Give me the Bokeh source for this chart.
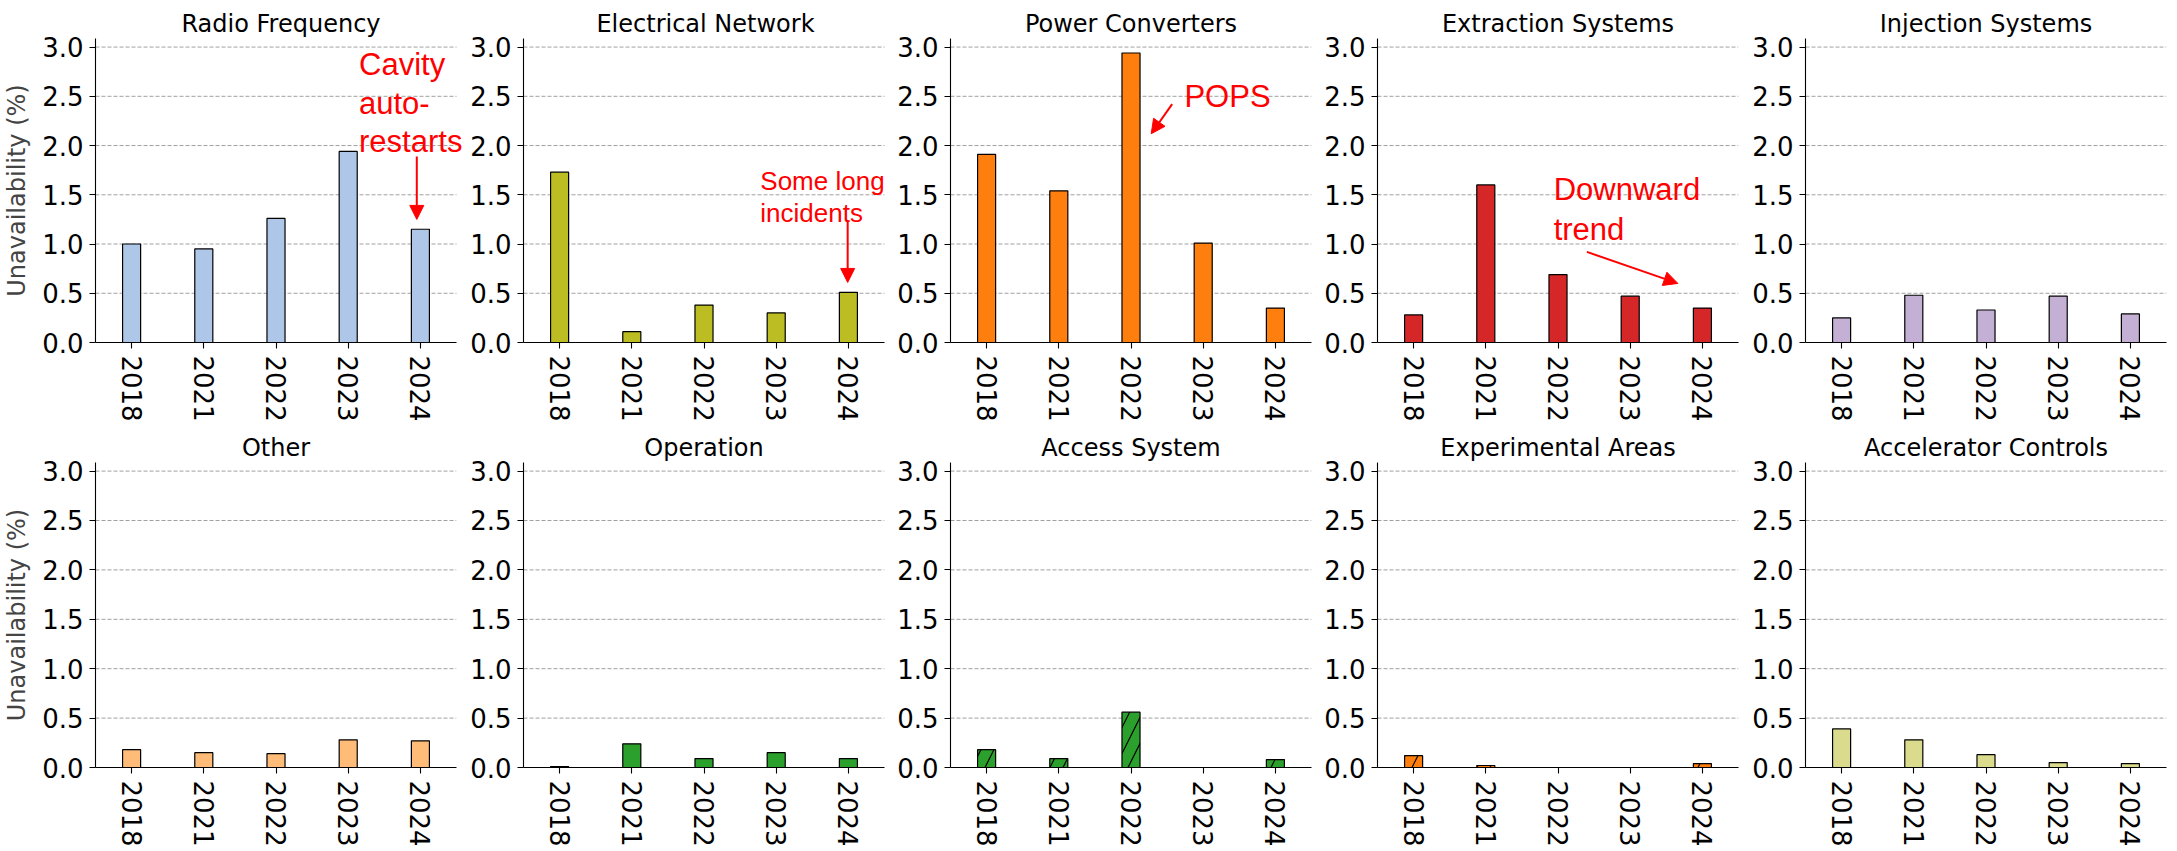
from bokeh.plotting import figure
from bokeh.layouts import row, column
from bokeh.models import (Range1d, FixedTicker, NumeralTickFormatter,
                          Label, Arrow, NormalHead, ColumnDataSource)
from bokeh.embed import file_html
from bokeh.resources import INLINE

# ---------------- data ----------------
years = ["2018", "2021", "2022", "2023", "2024"]

radio_frequency      = [1.00, 0.95, 1.26, 1.94, 1.15]
electrical_network   = [1.73, 0.11, 0.38, 0.30, 0.51]
power_converters     = [1.91, 1.54, 2.94, 1.01, 0.35]
extraction_systems   = [0.28, 1.60, 0.69, 0.47, 0.35]
injection_systems    = [0.25, 0.48, 0.33, 0.47, 0.29]
other                = [0.18, 0.15, 0.14, 0.28, 0.27]
operation            = [0.01, 0.24, 0.09, 0.15, 0.09]
access_system        = [0.18, 0.09, 0.56, 0.00, 0.08]
experimental_areas   = [0.12, 0.02, 0.00, 0.00, 0.04]
accelerator_controls = [0.39, 0.28, 0.13, 0.05, 0.04]

titles = ["Radio Frequency", "Electrical Network", "Power Converters",
          "Extraction Systems", "Injection Systems",
          "Other", "Operation", "Access System", "Experimental Areas",
          "Accelerator Controls"]
series = [radio_frequency, electrical_network, power_converters,
          extraction_systems, injection_systems,
          other, operation, access_system, experimental_areas,
          accelerator_controls]
colors = ["#aec7e8", "#bcbd22", "#ff7f0e", "#d62728", "#c5b0d5",
          "#ffbb78", "#2ca02c", "#2ca02c", "#ff7f0e", "#dbdb8d"]
hatches = [None, None, None, None, None, None, None, "/", "/", None]

y_ticks = [0.0, 0.5, 1.0, 1.5, 2.0, 2.5, 3.0]
y_label = "Unavailability (%)"

# annotations: panel, lines, x, baseline y of first line, line step, font size, arrow
annotations = [
    (0, ["Cavity", "auto-", "restarts"], 3.65, 2.82, 0.388, "31px", (4.45, 1.89, 4.45, 1.25)),
    (1, ["Some long", "incidents"], 3.28, 1.64, 0.322, "26px", (4.49, 1.23, 4.49, 0.61)),
    (2, ["POPS"], 3.24, 2.50, 0.0, "31px", (3.07, 2.42, 2.78, 2.12)),
    (3, ["Downward", "trend"], 2.44, 1.55, 0.40, "31px", (2.90, 0.92, 4.16, 0.60)),
]

# ---------------- layout ----------------
n = len(years)
xpos = [i + 0.5 for i in range(n)]
y_max = max(max(s) for s in series) * 1.05
FONT = "DejaVu Sans"
FRAME_W = 361
unit_px = FRAME_W / n
lefts = [90, 57, 61, 61, 61]
rights_total = [10, 5, 5, 6, 4]
extra_px = [[10, 3, 0, 0, 0], [0, 0, 0, 0, 0]]   # room for annotation text overflow
tops = [38, 38]
frame_h = [304, 305]

figs = []
for i, (t, vals, col, hat) in enumerate(zip(titles, series, colors, hatches)):
    r, c = divmod(i, 5)
    ex = extra_px[r][c]
    p = figure(x_range=Range1d(0, n + ex / unit_px),
               y_range=Range1d(0, y_max),
               frame_width=FRAME_W + ex, frame_height=frame_h[r],
               min_border_left=lefts[c], min_border_right=rights_total[c] - ex,
               min_border_top=tops[r], min_border_bottom=74,
               output_backend="svg", toolbar_location=None, title=t)
    p.title.text_font = FONT
    p.title.text_font_size = "24px"
    p.title.text_font_style = "normal"
    p.title.align = "center"
    p.title.standoff = 2
    p.title.text_color = "black"
    p.outline_line_color = None
    p.background_fill_color = "white"
    p.border_fill_color = "white"
    p.xgrid.grid_line_color = None
    p.ygrid.grid_line_color = None

    # horizontal dashed grid limited to the category span
    gy = [v for v in y_ticks if v > 0]
    p.segment(x0=[0] * len(gy), x1=[n] * len(gy), y0=gy, y1=gy,
              line_color="#a0a0a0", line_dash="4 2", line_width=1, level="underlay")

    src = ColumnDataSource(dict(x=xpos, top=vals))
    kw = dict(x="x", top="top", width=0.25, bottom=0, source=src,
              fill_color=col, line_color="black", line_width=1.2)
    if hat:
        kw.update(hatch_pattern=hat, hatch_color="black", hatch_weight=1.2, hatch_scale=26)
    p.vbar(**kw)

    for ax in (p.xaxis[0], p.yaxis[0]):
        ax.axis_line_color = "black"
        ax.axis_line_width = 1.1
        ax.major_tick_line_color = "black"
        ax.major_tick_line_width = 1.1
        ax.major_tick_in = 0
        ax.major_tick_out = 6
        ax.minor_tick_line_color = None
        ax.major_label_text_font = FONT
        ax.major_label_text_font_size = "26px"
        ax.major_label_text_color = "black"
    p.yaxis[0].ticker = FixedTicker(ticks=y_ticks)
    p.yaxis[0].formatter = NumeralTickFormatter(format="0.0")
    p.yaxis[0].major_label_standoff = 6
    p.xaxis[0].ticker = FixedTicker(ticks=xpos)
    p.xaxis[0].major_label_overrides = {x: y for x, y in zip(xpos, years)}
    p.xaxis[0].bounds = (0, n)
    p.xaxis[0].major_label_orientation = "vertical"
    p.xaxis[0].major_label_standoff = 7
    if c == 0:
        p.yaxis[0].axis_label = y_label
        p.yaxis[0].axis_label_text_font = FONT
        p.yaxis[0].axis_label_text_font_size = "24px"
        p.yaxis[0].axis_label_text_font_style = "normal"
        p.yaxis[0].axis_label_standoff = 8
    figs.append(p)

for idx, lines, x0, y0, step, fs, (xs, ys, xe, ye) in annotations:
    p = figs[idx]
    for k, line in enumerate(lines):
        p.add_layout(Label(x=x0, y=y0 - k * step, text=line, text_color="red",
                           text_font="Liberation Sans", text_font_size=fs,
                           text_align="left", text_baseline="alphabetic"))
    p.add_layout(Arrow(x_start=xs, y_start=ys, x_end=xe, y_end=ye,
                       line_color="red", line_width=2,
                       end=NormalHead(size=14, fill_color="red", line_color="red")))

layout = column(row(*figs[:5], spacing=0), row(*figs[5:], spacing=0), spacing=0)
open("out.html", "w").write(file_html(layout, INLINE))
